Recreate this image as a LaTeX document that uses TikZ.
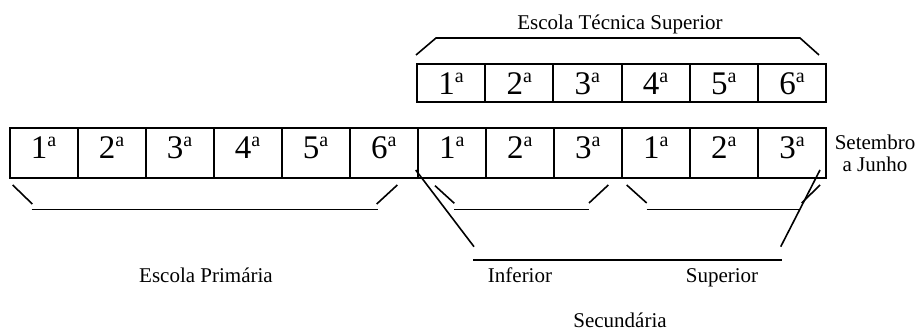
\documentclass[tikz,border=0pt]{standalone}
\usepackage{fontspec}
\setmainfont{Liberation Serif}
\newcommand\ordsup[1]{#1\raisebox{12pt}{\fontsize{20}{20}\selectfont a}}
\begin{document}
\begin{tikzpicture}[x=1pt,y=-1pt,
  cellbox/.style={draw, line width=2pt, inner sep=0pt, minimum height=50pt, minimum width=68.04pt, font=\fontsize{33}{33}\selectfont, text height=25pt, text depth=15.6pt},
  topcell/.style={cellbox, minimum height=38pt, minimum width=68.17pt, text height=25pt, text depth=3pt},
  lbl/.style={font=\fontsize{21}{21}\selectfont, inner sep=0pt, anchor=base},
  brk/.style={line width=1.6pt}]
\useasboundingbox (0,0) rectangle (920,332);
% bottom row
\foreach \i/\t in {1/1,2/2,3/3,4/4,5/5,6/6,7/1,8/2,9/3,10/1,11/2,12/3}
  \node[cellbox] (b\i) at ({9.5+(\i-0.5)*68.04},153.3) {\ordsup{\t}};
% top row
\foreach \i in {1,...,6}
  \node[topcell] (t\i) at ({417+(\i-0.5)*68.17},83) {\ordsup{\i}};
% labels
\node[lbl] (ets) at (620,29) {Escola Técnica Superior};
\node[lbl] (ep) at (206,282) {Escola Primária};
\node[lbl] (inf) at (520,282) {Inferior};
\node[lbl] (sup) at (722,282) {Superior};
\node[lbl] (sec) at (620,327) {Secundária};
\node[lbl] (set) at (875,149) {Setembro};
\node[lbl] (aj) at (875,171.7) {a Junho};
% top bracket
\coordinate (tb1) at (416,55); \coordinate (tb2) at (436,38);
\coordinate (tb3) at (800,38); \coordinate (tb4) at (819,55);
\draw[brk] (tb1) -- (tb2) -- (tb3) -- (tb4);
% primary bracket
\coordinate (p1) at (12.7,185); \coordinate (p2) at (32.3,204);
\coordinate (p3) at (31.7,209.3); \coordinate (p4) at (378.3,209.3);
\coordinate (p5) at (376.7,204); \coordinate (p6) at (397.3,185);
\draw[brk] (p1) -- (p2); \draw[brk] (p3) -- (p4); \draw[brk] (p5) -- (p6);
% inferior bracket
\coordinate (i1) at (435,185.7); \coordinate (i2) at (454.3,203.3);
\coordinate (i3) at (454,209.3); \coordinate (i4) at (589,209.3);
\coordinate (i5) at (589,203); \coordinate (i6) at (608.3,185);
\draw[brk] (i1) -- (i2); \draw[brk] (i3) -- (i4); \draw[brk] (i5) -- (i6);
% superior bracket
\coordinate (s1) at (626.7,185); \coordinate (s2) at (646.7,203);
\coordinate (s3) at (646.7,209.3); \coordinate (s4) at (800,209.3);
\coordinate (s5) at (801.7,203); \coordinate (s6) at (820,185);
\draw[brk] (s1) -- (s2); \draw[brk] (s3) -- (s4); \draw[brk] (s5) -- (s6);
% secundaria bracket
\coordinate (c1) at (415.7,170); \coordinate (c2) at (474,246.7);
\coordinate (c3) at (473,260); \coordinate (c4) at (781.7,260);
\coordinate (c5) at (780.7,246.7); \coordinate (c6) at (820,170);
\draw[brk] (c1) -- (c2); \draw[brk] (c3) -- (c4); \draw[brk] (c5) -- (c6);
\end{tikzpicture}
\end{document}
